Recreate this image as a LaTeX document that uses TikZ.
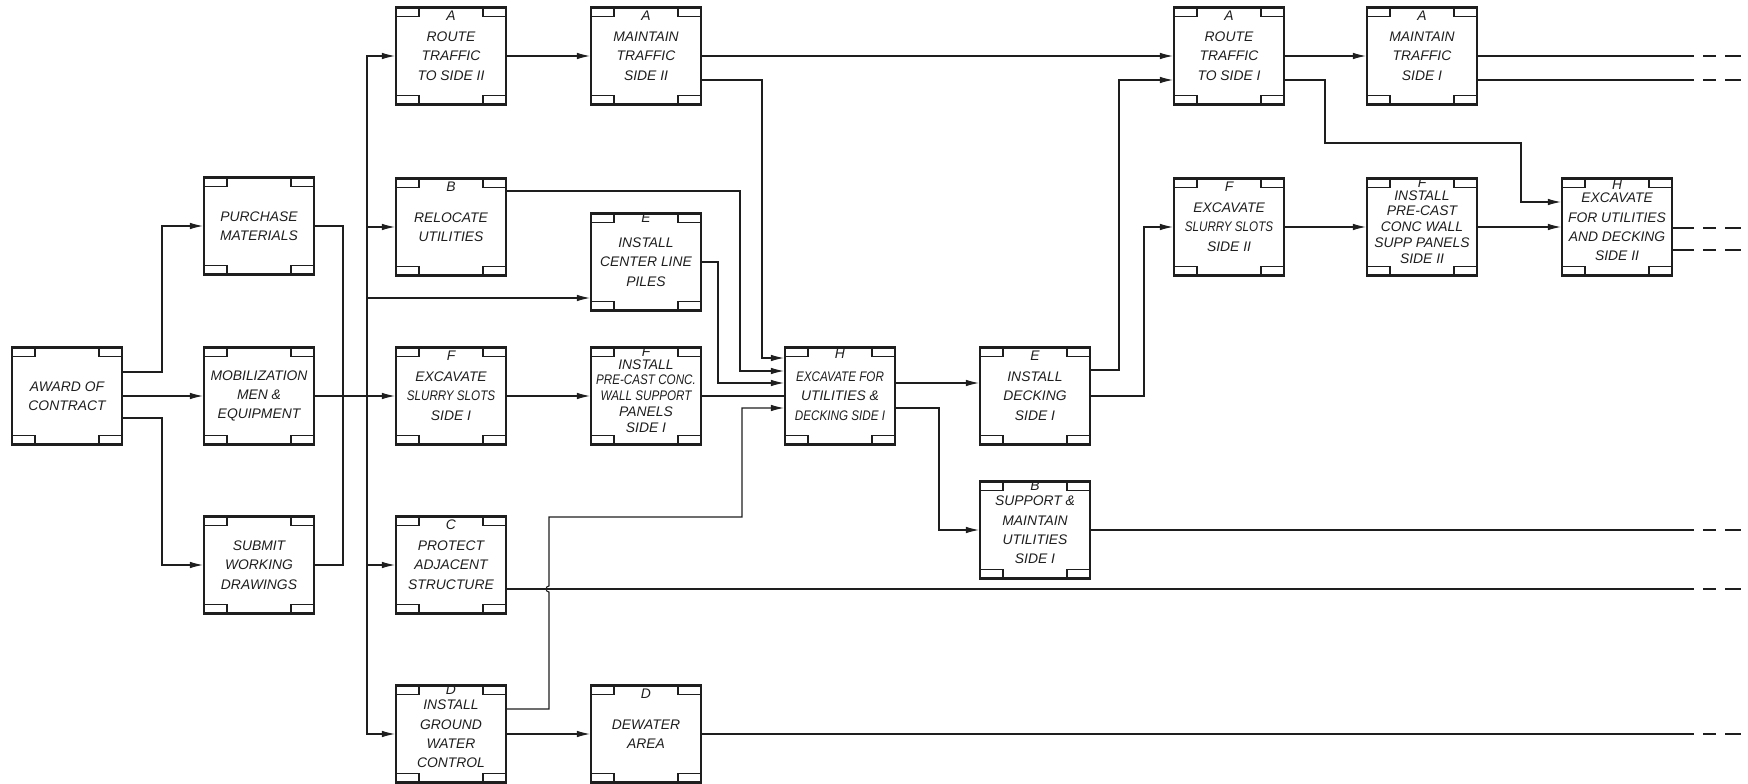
\documentclass[tikz,border=0pt]{standalone}
\usepackage{fontspec}
\usepackage{graphicx}
\usetikzlibrary{arrows.meta, calc}
\newfontfamily\handLettering{Liberation Sans}
\definecolor{inkBlack}{HTML}{1E1E1E}
\newcommand{\squeezed}[1]{\scalebox{0.84}[1]{#1}}

\begin{document}
\begin{tikzpicture}[
    x=0.02cm, y=-0.02cm,
    task/.style={rectangle, draw=inkBlack, line width=1.2pt,
                 minimum width=2.2cm, minimum height=1.94cm, inner sep=1pt,
                 align=center, text=inkBlack,
                 font=\handLettering\itshape\fontsize{7.9}{11}\selectfont,
                 path picture={
                   \foreach \cn/\sx/\sy in {north west/1/-1, north east/-1/-1,
                                            south west/1/1, south east/-1/1}
                     \draw[inkBlack, line width=0.9pt]
                       (path picture bounding box.\cn) rectangle ++(\sx*0.46cm, \sy*0.18cm);
                 }},
    dense/.style={font=\handLettering\itshape\fontsize{7.9}{9}\selectfont},
    tag/.style={anchor=north, inner sep=0.5pt, yshift=-2pt, text=inkBlack,
                font=\handLettering\itshape\fontsize{7.9}{9}\selectfont},
    line/.style={draw=inkBlack, line width=0.6pt},
    flow/.style={line, -{Latex[length=2.6mm, width=1.3mm]}},
    tail/.style={line, dash pattern=on 0pt off 1.8mm on 2.6mm off 1.8mm on 3.2mm off 9mm},
  ]
    \useasboundingbox (0,0) rectangle (1748,784);

    % start-up
    \node[task] (award) at (67,396) {AWARD OF\\CONTRACT};
    \node[task] (purch) at (259,226) {PURCHASE\\MATERIALS};
    \node[task] (mobil) at (259,396) {MOBILIZATION\\MEN \&\\EQUIPMENT};
    \node[task] (submit) at (259,565) {SUBMIT\\WORKING\\DRAWINGS};

    % side I work
    \node[task, label={[tag]north:A}] (routeA) at (451,56) {ROUTE\\TRAFFIC\\TO SIDE II};
    \node[task, label={[tag]north:A}] (maintA) at (646,56) {MAINTAIN\\TRAFFIC\\SIDE II};
    \node[task, label={[tag]north:B}] (reloc) at (451,227) {RELOCATE\\UTILITIES};
    \node[task, label={[tag, yshift=2.5pt]north:E}] (piles) at (646,262) {INSTALL\\CENTER LINE\\PILES};
    \node[task, label={[tag]north:F}] (slurryI) at (451,396) {EXCAVATE\\\squeezed{SLURRY SLOTS}\\SIDE I};
    \node[task, dense, label={[tag, yshift=2.5pt]north:F}] (precastI) at (646,396)
      {INSTALL\\\squeezed{PRE-CAST CONC.}\\\squeezed{WALL SUPPORT}\\PANELS\\SIDE I};
    \node[task, label={[tag]north:C}] (protect) at (451,565) {PROTECT\\ADJACENT\\STRUCTURE};
    \node[task, label={[tag, yshift=2.5pt]north:D}] (gwc) at (451,734) {INSTALL\\GROUND\\WATER\\CONTROL};
    \node[task, label={[tag]north:D}] (dewater) at (646,734) {DEWATER\\AREA};
    \node[task, label={[tag, yshift=1pt]north:H}] (excI) at (840,396)
      {\squeezed{EXCAVATE FOR}\\UTILITIES \&\\\squeezed{DECKING SIDE I}};
    \node[task, label={[tag]north:E}] (deckI) at (1035,396) {INSTALL\\DECKING\\SIDE I};
    \node[task, label={[tag, yshift=2.5pt]north:B}] (supp) at (1035,530)
      {SUPPORT \&\\MAINTAIN\\UTILITIES\\SIDE I};

    % side II work
    \node[task, label={[tag]north:A}] (routeB) at (1229,56) {ROUTE\\TRAFFIC\\TO SIDE I};
    \node[task, label={[tag]north:A}] (maintB) at (1422,56) {MAINTAIN\\TRAFFIC\\SIDE I};
    \node[task, label={[tag]north:F}] (slurryII) at (1229,227) {EXCAVATE\\\squeezed{SLURRY SLOTS}\\SIDE II};
    \node[task, dense, label={[tag, yshift=2.5pt]north:F}] (precastII) at (1422,227)
      {INSTALL\\PRE-CAST\\CONC WALL\\SUPP PANELS\\SIDE II};
    \node[task, label={[tag, yshift=1pt]north:H}] (excII) at (1617,227)
      {EXCAVATE\\FOR UTILITIES\\AND DECKING\\SIDE II};

    \coordinate (busA) at (343,396);
    \coordinate (busB) at (367,396);
    \foreach \y in {56,80,228,250,530,589,734}
      \coordinate (end\y) at (1694,\y);

    \draw[flow] (award.east |- 0,372) -| (162,300) |- (purch);
    \draw[flow] (award) -- (mobil);
    \draw[flow] (award.east |- 0,418) -| (162,500) |- (submit);
    \draw[line] (purch) -| (busA);
    \draw[line] (submit) -| (busA);
    \draw[flow] (mobil) -- (slurryI);
    \draw[flow] (busB) |- (routeA);
    \draw[flow] (busB) |- (reloc);
    \draw[flow] (busB) |- (piles.west |- 0,298);
    \draw[flow] (busB) |- (protect);
    \draw[flow] (busB) |- (gwc);

    \draw[flow] (routeA) -- (maintA);
    \draw[flow] (maintA) -- (routeB);
    \draw[flow] (maintA.east |- 0,80) -| (762,200) |- (excI.west |- 0,358);
    \draw[flow] (reloc.east |- 0,191) -| (740,300) |- (excI.west |- 0,371);
    \draw[flow] (piles) -| (718,330) |- (excI.west |- 0,383);
    \draw[flow] (slurryI) -- (precastI);
    \draw[line] (precastI) -- (excI);
    \draw[flow] (gwc.east |- 0,709) -| (549,592)
      arc[start angle=270, end angle=90, radius=0.06cm]
      -- (549,517) -| (742,450) |- (excI.west |- 0,408);
    \draw[flow] (gwc) -- (dewater);

    \draw[flow] (excI.east |- 0,383) -- (deckI.west |- 0,383);
    \draw[flow] (excI.east |- 0,408) -| (939,480) |- (supp);
    \draw[flow] (deckI.east |- 0,370) -| (1119,200) |- (routeB.west |- end80);
    \draw[flow] (deckI) -| (1144,300) |- (slurryII);

    \draw[flow] (routeB) -- (maintB);
    \draw[flow] (routeB.east |- end80) -| (1325,143) -| (1521,180) |- (excII.west |- 0,202);
    \draw[flow] (slurryII) -- (precastII);
    \draw[flow] (precastII) -- (excII);

    % open ends
    \draw[line] (maintB) -- (end56);
    \draw[line] (maintB.east |- end80) -- (end80);
    \draw[line] (excII.east |- end228) -- (end228);
    \draw[line] (excII.east |- end250) -- (end250);
    \draw[line] (supp) -- (end530);
    \draw[line] (protect.east |- end589) -- (end589);
    \draw[line] (dewater) -- (end734);
    \foreach \y in {56,80,228,250,530,589,734}
      \draw[tail] (end\y) -- ++(48,0);
  \end{tikzpicture}
\end{document}
